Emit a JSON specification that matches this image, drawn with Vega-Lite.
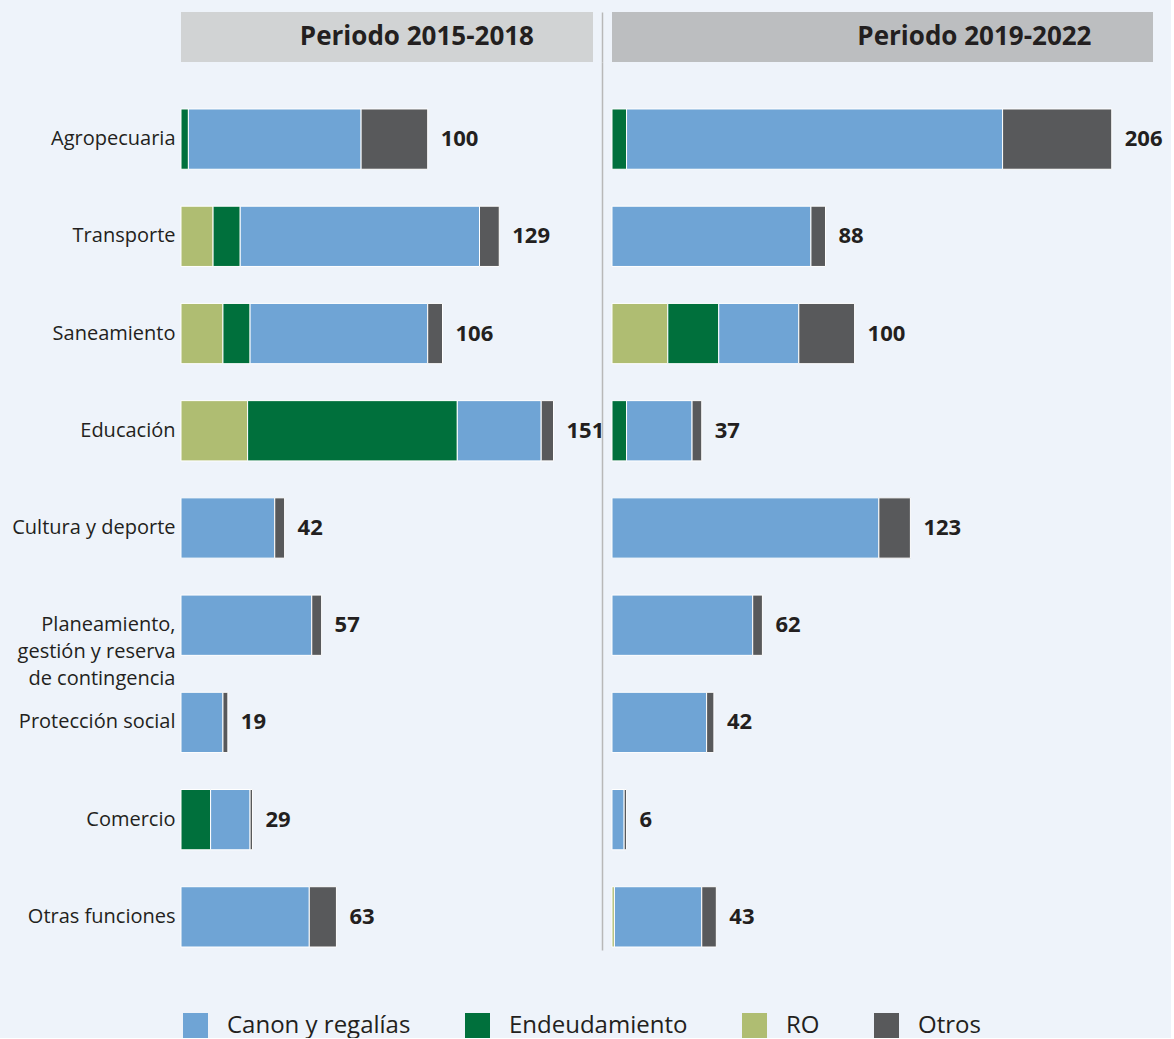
{
  "$schema": "https://vega.github.io/schema/vega-lite/v6.json",
  "background": "#EEF3FA",
  "padding": {"left": 11, "top": 12, "right": 8, "bottom": 0},
  "config": {"font": "Open Sans", "view": {"stroke": null}},
  "datasets": {
    "fin": [
      {"periodo": "2015-2018", "funcion": "Agropecuaria", "fuente": "Endeudamiento", "valor": 3},
      {"periodo": "2015-2018", "funcion": "Agropecuaria", "fuente": "Canon y regalías", "valor": 70},
      {"periodo": "2015-2018", "funcion": "Agropecuaria", "fuente": "Otros", "valor": 27},
      {"periodo": "2015-2018", "funcion": "Transporte", "fuente": "RO", "valor": 13},
      {"periodo": "2015-2018", "funcion": "Transporte", "fuente": "Endeudamiento", "valor": 11},
      {"periodo": "2015-2018", "funcion": "Transporte", "fuente": "Canon y regalías", "valor": 97},
      {"periodo": "2015-2018", "funcion": "Transporte", "fuente": "Otros", "valor": 8},
      {"periodo": "2015-2018", "funcion": "Saneamiento", "fuente": "RO", "valor": 17},
      {"periodo": "2015-2018", "funcion": "Saneamiento", "fuente": "Endeudamiento", "valor": 11},
      {"periodo": "2015-2018", "funcion": "Saneamiento", "fuente": "Canon y regalías", "valor": 72},
      {"periodo": "2015-2018", "funcion": "Saneamiento", "fuente": "Otros", "valor": 6},
      {"periodo": "2015-2018", "funcion": "Educación", "fuente": "RO", "valor": 27},
      {"periodo": "2015-2018", "funcion": "Educación", "fuente": "Endeudamiento", "valor": 85},
      {"periodo": "2015-2018", "funcion": "Educación", "fuente": "Canon y regalías", "valor": 34},
      {"periodo": "2015-2018", "funcion": "Educación", "fuente": "Otros", "valor": 5},
      {"periodo": "2015-2018", "funcion": "Cultura y deporte", "fuente": "Canon y regalías", "valor": 38},
      {"periodo": "2015-2018", "funcion": "Cultura y deporte", "fuente": "Otros", "valor": 4},
      {"periodo": "2015-2018", "funcion": "Planeamiento, gestión y reserva de contingencia", "fuente": "Canon y regalías", "valor": 53},
      {"periodo": "2015-2018", "funcion": "Planeamiento, gestión y reserva de contingencia", "fuente": "Otros", "valor": 4},
      {"periodo": "2015-2018", "funcion": "Protección social", "fuente": "Canon y regalías", "valor": 17},
      {"periodo": "2015-2018", "funcion": "Protección social", "fuente": "Otros", "valor": 2},
      {"periodo": "2015-2018", "funcion": "Comercio", "fuente": "Endeudamiento", "valor": 12},
      {"periodo": "2015-2018", "funcion": "Comercio", "fuente": "Canon y regalías", "valor": 16},
      {"periodo": "2015-2018", "funcion": "Comercio", "fuente": "Otros", "valor": 1},
      {"periodo": "2015-2018", "funcion": "Otras funciones", "fuente": "Canon y regalías", "valor": 52},
      {"periodo": "2015-2018", "funcion": "Otras funciones", "fuente": "Otros", "valor": 11},
      {"periodo": "2019-2022", "funcion": "Agropecuaria", "fuente": "Endeudamiento", "valor": 6},
      {"periodo": "2019-2022", "funcion": "Agropecuaria", "fuente": "Canon y regalías", "valor": 155},
      {"periodo": "2019-2022", "funcion": "Agropecuaria", "fuente": "Otros", "valor": 45},
      {"periodo": "2019-2022", "funcion": "Transporte", "fuente": "Canon y regalías", "valor": 82},
      {"periodo": "2019-2022", "funcion": "Transporte", "fuente": "Otros", "valor": 6},
      {"periodo": "2019-2022", "funcion": "Saneamiento", "fuente": "RO", "valor": 23},
      {"periodo": "2019-2022", "funcion": "Saneamiento", "fuente": "Endeudamiento", "valor": 21},
      {"periodo": "2019-2022", "funcion": "Saneamiento", "fuente": "Canon y regalías", "valor": 33},
      {"periodo": "2019-2022", "funcion": "Saneamiento", "fuente": "Otros", "valor": 23},
      {"periodo": "2019-2022", "funcion": "Educación", "fuente": "Endeudamiento", "valor": 6},
      {"periodo": "2019-2022", "funcion": "Educación", "fuente": "Canon y regalías", "valor": 27},
      {"periodo": "2019-2022", "funcion": "Educación", "fuente": "Otros", "valor": 4},
      {"periodo": "2019-2022", "funcion": "Cultura y deporte", "fuente": "Canon y regalías", "valor": 110},
      {"periodo": "2019-2022", "funcion": "Cultura y deporte", "fuente": "Otros", "valor": 13},
      {"periodo": "2019-2022", "funcion": "Planeamiento, gestión y reserva de contingencia", "fuente": "Canon y regalías", "valor": 58},
      {"periodo": "2019-2022", "funcion": "Planeamiento, gestión y reserva de contingencia", "fuente": "Otros", "valor": 4},
      {"periodo": "2019-2022", "funcion": "Protección social", "fuente": "Canon y regalías", "valor": 39},
      {"periodo": "2019-2022", "funcion": "Protección social", "fuente": "Otros", "valor": 3},
      {"periodo": "2019-2022", "funcion": "Comercio", "fuente": "Canon y regalías", "valor": 5},
      {"periodo": "2019-2022", "funcion": "Comercio", "fuente": "Otros", "valor": 1},
      {"periodo": "2019-2022", "funcion": "Otras funciones", "fuente": "RO", "valor": 1},
      {"periodo": "2019-2022", "funcion": "Otras funciones", "fuente": "Canon y regalías", "valor": 36},
      {"periodo": "2019-2022", "funcion": "Otras funciones", "fuente": "Otros", "valor": 6}
    ],
    "titulos": [
      {"periodo": "2015-2018", "titulo": "Periodo 2015-2018"},
      {"periodo": "2019-2022", "titulo": "Periodo 2019-2022"}
    ]
  },
  "bounds": "flush",
  "columns": 2,
  "spacing": {"row": 0, "column": 19},
  "resolve": {"scale": {"x": "independent", "y": "independent", "color": "shared"}},
  "concat": [
    {
      "width": 412, "height": 50,
      "view": {"fill": "#D1D3D4", "stroke": null},
      "data": {"name": "titulos"},
      "transform": [{"filter": "datum.periodo == '2015-2018'"}],
      "mark": {"type": "text", "align": "right", "baseline": "middle", "dx": 147, "fontSize": 26, "fontWeight": "bold", "color": "#231F20"},
      "encoding": {"text": {"field": "titulo", "type": "nominal"}}
    },
    {
      "width": 541, "height": 50,
      "view": {"fill": "#BCBEC0", "stroke": null},
      "data": {"name": "titulos"},
      "transform": [{"filter": "datum.periodo == '2019-2022'"}],
      "mark": {"type": "text", "align": "right", "baseline": "middle", "dx": 209, "fontSize": 26, "fontWeight": "bold", "color": "#231F20"},
      "encoding": {
        "text": {"field": "titulo", "type": "nominal"},
        "y": {"field": "titulo", "type": "nominal", "axis": {"title": null, "labels": false, "ticks": false, "domain": true, "domainColor": "#B8B8B8", "domainWidth": 1.5, "offset": 10}}
      }
    },
    {
      "width": 412, "height": 888,
      "data": {"name": "fin"},
      "transform": [{"filter": "datum.periodo == '2015-2018'"}],
      "encoding": {
        "y": {
          "field": "funcion", "type": "nominal",
          "sort": ["Agropecuaria", "Transporte", "Saneamiento", "Educación", "Cultura y deporte", "Planeamiento, gestión y reserva de contingencia", "Protección social", "Comercio", "Otras funciones"],
          "scale": {"paddingInner": 0.38, "paddingOuter": 0.257, "align": 0.94},
          "axis": {"title": null, "domain": false, "ticks": false, "labelPadding": 6, "labelFontSize": 20, "labelColor": "#231F20", "labelLineHeight": 27, "labelLimit": 300,
            "labelExpr": "datum.value == 'Planeamiento, gestión y reserva de contingencia' ? ['Planeamiento,', 'gestión y reserva', 'de contingencia'] : datum.label"}
        }
      },
      "layer": [
        {
          "transform": [{"calculate": "indexof(['RO','Endeudamiento','Canon y regalías','Otros'], datum.fuente)", "as": "orden"}],
          "mark": {"type": "bar", "stroke": "white", "strokeWidth": 1},
          "encoding": {
            "x": {"field": "valor", "type": "quantitative", "stack": "zero", "scale": {"domain": [0, 167], "nice": false}, "axis": null},
            "color": {
              "field": "fuente", "type": "nominal",
              "scale": {"domain": ["Canon y regalías", "Endeudamiento", "RO", "Otros"], "range": ["#6FA4D5", "#00703C", "#AFBD72", "#58595B"]},
              "legend": {"orient": "none", "legendX": 2, "legendY": 1001, "direction": "horizontal", "title": null, "symbolType": "square", "symbolSize": 625, "symbolStrokeWidth": 0, "symbolOpacity": 1, "labelFontSize": 24, "labelLimit": 400, "labelColor": "#231F20", "labelOffset": 19, "columnPadding": 54, "padding": 0}
            },
            "order": {"field": "orden", "type": "quantitative"}
          }
        },
        {
          "transform": [{"aggregate": [{"op": "sum", "field": "valor", "as": "total"}], "groupby": ["funcion"]}],
          "mark": {"type": "text", "align": "left", "baseline": "middle", "dx": 13, "fontSize": 22, "fontWeight": "bold", "color": "#231F20"},
          "encoding": {
            "x": {"field": "total", "type": "quantitative"},
            "text": {"field": "total", "type": "quantitative"}
          }
        }
      ]
    },
    {
      "width": 541, "height": 888,
      "data": {"name": "fin"},
      "transform": [{"filter": "datum.periodo == '2019-2022'"}],
      "encoding": {
        "y": {
          "field": "funcion", "type": "nominal",
          "sort": ["Agropecuaria", "Transporte", "Saneamiento", "Educación", "Cultura y deporte", "Planeamiento, gestión y reserva de contingencia", "Protección social", "Comercio", "Otras funciones"],
          "scale": {"paddingInner": 0.38, "paddingOuter": 0.257, "align": 0.94},
          "axis": {"title": null, "labels": false, "ticks": false, "domain": true, "domainColor": "#B8B8B8", "domainWidth": 1.5, "offset": 10}
        }
      },
      "layer": [
        {
          "transform": [{"calculate": "indexof(['RO','Endeudamiento','Canon y regalías','Otros'], datum.fuente)", "as": "orden"}],
          "mark": {"type": "bar", "stroke": "white", "strokeWidth": 1},
          "encoding": {
            "x": {"field": "valor", "type": "quantitative", "stack": "zero", "scale": {"domain": [0, 223], "nice": false}, "axis": null},
            "color": {"field": "fuente", "type": "nominal"},
            "order": {"field": "orden", "type": "quantitative"}
          }
        },
        {
          "transform": [{"aggregate": [{"op": "sum", "field": "valor", "as": "total"}], "groupby": ["funcion"]}],
          "mark": {"type": "text", "align": "left", "baseline": "middle", "dx": 13, "fontSize": 22, "fontWeight": "bold", "color": "#231F20"},
          "encoding": {
            "x": {"field": "total", "type": "quantitative"},
            "text": {"field": "total", "type": "quantitative"}
          }
        }
      ]
    }
  ]
}
